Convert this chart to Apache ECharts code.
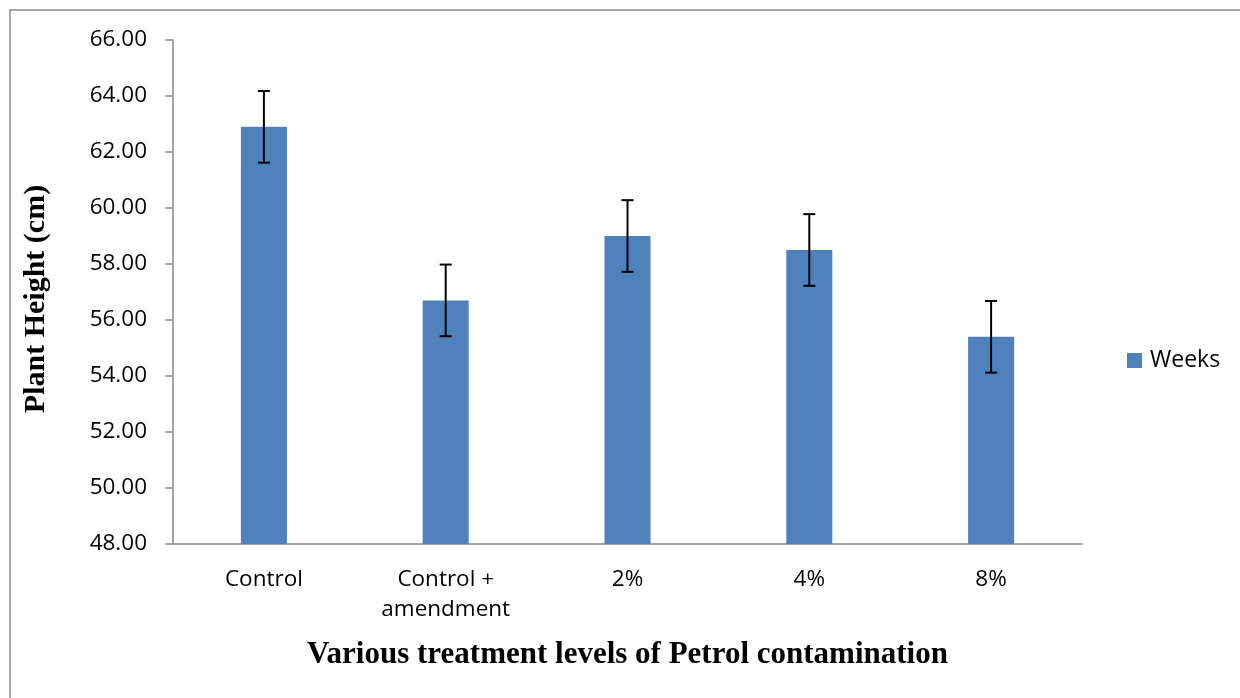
<!DOCTYPE html>
<html>
<head>
<meta charset="utf-8">
<script src="https://cdn.jsdelivr.net/npm/echarts@6/dist/echarts.min.js"></script>
<style>
  html, body { margin: 0; padding: 0; background: #fff; }
  #chart { width: 1240px; height: 698px; }
</style>
</head>
<body>
<div id="chart"></div>
<script>
// treatment levels and mean plant height with its error
var categories = ['Control', 'Control +\namendment', '2%', '4%', '8%'];
var heights = [62.90, 56.70, 59.00, 58.50, 55.40];
var errors = [1.28, 1.28, 1.28, 1.28, 1.28];

var errData = [];
for (var i = 0; i < heights.length; i++) {
    errData.push([i, heights[i] - errors[i], heights[i] + errors[i]]);
}

var myChart = echarts.init(document.getElementById('chart'));

var option = {
    animation: false,
    backgroundColor: '#fff',
    graphic: [{
        type: 'rect',
        shape: { x: 10, y: 10, width: 1260, height: 720 },
        style: { fill: 'none', stroke: '#8a8a8a', lineWidth: 1.5 },
        silent: true
    }],
    grid: {
        left: 173,
        right: 158,
        top: 40,
        bottom: 154
    },
    legend: {
        data: ['Weeks'],
        left: 1122,
        top: 344,
        icon: 'rect',
        itemWidth: 15,
        itemHeight: 15,
        itemGap: 0,
        textStyle: { fontFamily: 'Open Sans', fontSize: 23, color: '#000', padding: [0, 0, 0, 3] }
    },
    xAxis: {
        type: 'category',
        data: categories,
        name: 'Various treatment levels of Petrol contamination',
        nameLocation: 'middle',
        nameGap: 95,
        nameTextStyle: {
            fontFamily: 'Liberation Serif',
            fontWeight: 'bold',
            fontSize: 31,
            color: '#000'
        },
        axisLine: { lineStyle: { color: '#868686', width: 1.5 } },
        axisTick: { show: false },
        axisLabel: {
            fontFamily: 'Open Sans',
            fontSize: 22.5,
            color: '#000',
            margin: 21,
            lineHeight: 30
        }
    },
    yAxis: {
        type: 'value',
        min: 48,
        max: 66,
        interval: 2,
        name: 'Plant Height (cm)',
        nameLocation: 'middle',
        nameRotate: 90,
        nameGap: 122,
        nameTextStyle: {
            fontFamily: 'Liberation Serif',
            fontWeight: 'bold',
            fontSize: 30,
            color: '#000',
            padding: [0, 14, 0, 0]
        },
        splitLine: { show: false },
        axisLine: { show: true, lineStyle: { color: '#868686', width: 1.5 } },
        axisTick: { show: true, length: 8, lineStyle: { color: '#868686', width: 1.5 } },
        axisLabel: {
            fontFamily: 'Open Sans',
            fontSize: 22.5,
            color: '#000',
            margin: 26,
            formatter: function (v) { return v.toFixed(2); }
        }
    },
    series: [{
        name: 'Weeks',
        type: 'bar',
        data: heights,
        barWidth: 46,
        itemStyle: { color: '#4f81bd' }
    }, {
        name: 'error',
        type: 'custom',
        data: errData,
        z: 10,
        renderItem: function (params, api) {
            var x = api.value(0);
            var lo = api.coord([x, api.value(1)]);
            var hi = api.coord([x, api.value(2)]);
            var cap = 6;
            var style = { stroke: '#000', lineWidth: 2 };
            return {
                type: 'group',
                children: [
                    { type: 'line', shape: { x1: hi[0], y1: hi[1], x2: lo[0], y2: lo[1] }, style: style },
                    { type: 'line', shape: { x1: hi[0] - cap, y1: hi[1], x2: hi[0] + cap, y2: hi[1] }, style: style },
                    { type: 'line', shape: { x1: lo[0] - cap, y1: lo[1], x2: lo[0] + cap, y2: lo[1] }, style: style }
                ]
            };
        }
    }]
};

myChart.setOption(option);
</script>
</body>
</html>
